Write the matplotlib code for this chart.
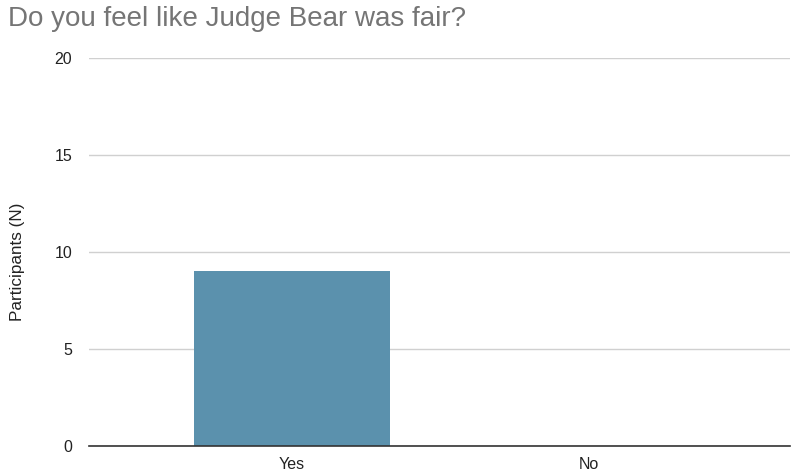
import matplotlib.pyplot as plt

plt.rcParams['font.family'] = ['Liberation Sans', 'DejaVu Sans']

# data
answers = ['Yes', 'No']
participants = [9, 0]

fig = plt.figure(figsize=(7.91, 4.76), dpi=100)
ax = fig.add_axes([89 / 791, 1 - 446 / 476, 701 / 791, 388 / 476])

x = range(len(answers))
ax.bar(x, participants, width=0.66, color='#5b91ad', zorder=3)

ax.set_xlim(-0.684, 1.677)
ax.set_ylim(0, 20)
ax.set_yticks([0, 5, 10, 15, 20])
ax.set_xticks(list(x))
ax.set_xticklabels(answers)
ax.yaxis.grid(True, color='#d0d0d0', linewidth=1, zorder=0)

for s in ['top', 'right', 'left']:
    ax.spines[s].set_visible(False)
ax.spines['bottom'].set_color('#333333')
ax.spines['bottom'].set_linewidth(1.2)
ax.spines['bottom'].set_zorder(4)
ax.tick_params(axis='both', length=0, labelsize=11.5, colors='#222222')
ax.tick_params(axis='y', pad=12)
ax.tick_params(axis='x', pad=8)

ax.set_ylabel('Participants (N)', fontsize=12.3, color='#222222')
ax.yaxis.set_label_coords(-64 / 701, 0.474)
fig.text(8 / 791, 1 - 19 / 476, 'Do you feel like Judge Bear was fair?',
         fontsize=20, color='#757575', va='center', ha='left')

fig.savefig('out.png', dpi=100)
